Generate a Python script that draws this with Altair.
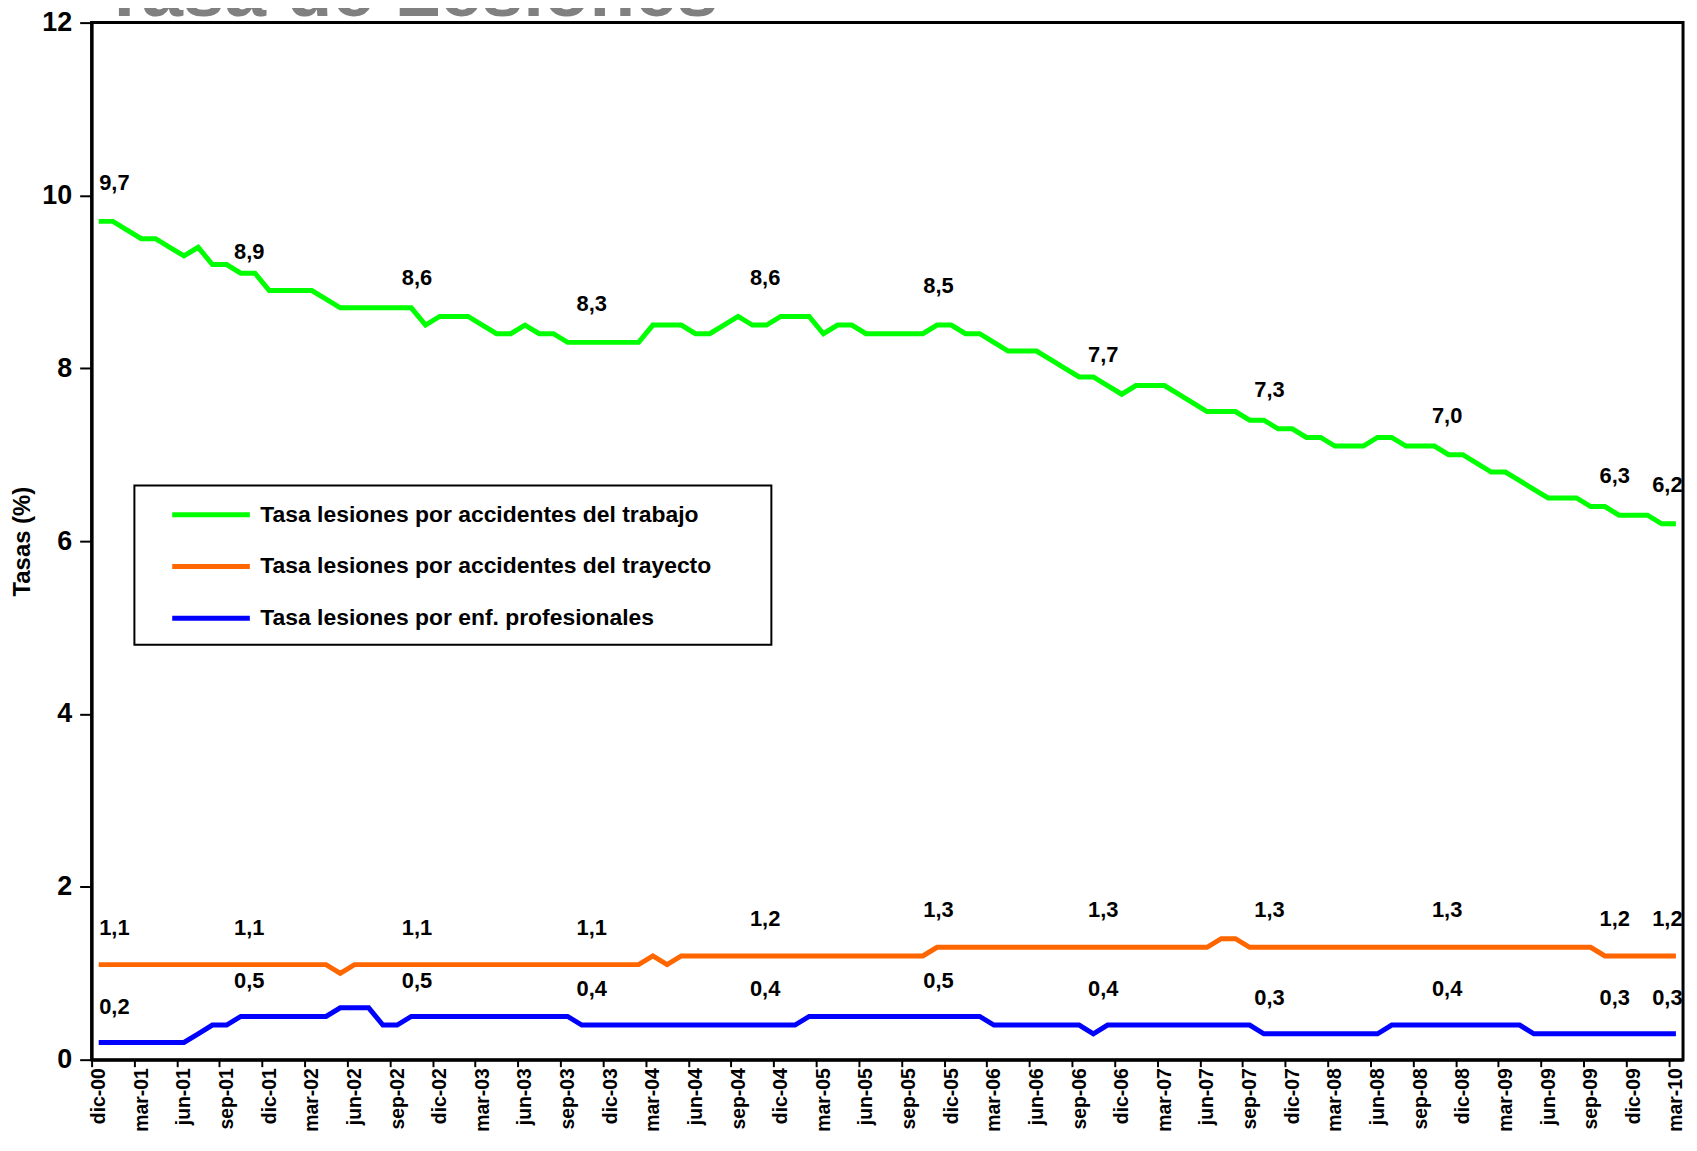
import json
import altair as alt
import pandas as pd

# ---------------- data ----------------
title_text = "Tasa de Lesiones"

tick_labels = ["dic-00", "mar-01", "jun-01", "sep-01", "dic-01", "mar-02", "jun-02", "sep-02",
               "dic-02", "mar-03", "jun-03", "sep-03", "dic-03", "mar-04", "jun-04", "sep-04",
               "dic-04", "mar-05", "jun-05", "sep-05", "dic-05", "mar-06", "jun-06", "sep-06",
               "dic-06", "mar-07", "jun-07", "sep-07", "dic-07", "mar-08", "jun-08", "sep-08",
               "dic-08", "mar-09", "jun-09", "sep-09", "dic-09", "mar-10"]

series_names = ["Tasa lesiones por accidentes del trabajo",
                "Tasa lesiones por accidentes del trayecto",
                "Tasa lesiones por enf. profesionales"]
series_colors = ["#00FF00", "#FF6600", "#0000FF"]

# monthly values, dic-00 .. mar-10 (112 months)
trabajo = [9.7, 9.7, 9.6, 9.5, 9.5, 9.4, 9.3, 9.4, 9.2, 9.2, 9.1, 9.1,
           8.9, 8.9, 8.9, 8.9, 8.8, 8.7, 8.7, 8.7, 8.7, 8.7, 8.7, 8.5,
           8.6, 8.6, 8.6, 8.5, 8.4, 8.4, 8.5, 8.4, 8.4, 8.3, 8.3, 8.3,
           8.3, 8.3, 8.3, 8.5, 8.5, 8.5, 8.4, 8.4, 8.5, 8.6, 8.5, 8.5,
           8.6, 8.6, 8.6, 8.4, 8.5, 8.5, 8.4, 8.4, 8.4, 8.4, 8.4, 8.5,
           8.5, 8.4, 8.4, 8.3, 8.2, 8.2, 8.2, 8.1, 8.0, 7.9, 7.9, 7.8,
           7.7, 7.8, 7.8, 7.8, 7.7, 7.6, 7.5, 7.5, 7.5, 7.4, 7.4, 7.3,
           7.3, 7.2, 7.2, 7.1, 7.1, 7.1, 7.2, 7.2, 7.1, 7.1, 7.1, 7.0,
           7.0, 6.9, 6.8, 6.8, 6.7, 6.6, 6.5, 6.5, 6.5, 6.4, 6.4, 6.3,
           6.3, 6.3, 6.2, 6.2]

trayecto = [1.1, 1.1, 1.1, 1.1, 1.1, 1.1, 1.1, 1.1, 1.1, 1.1, 1.1, 1.1,
            1.1, 1.1, 1.1, 1.1, 1.1, 1.0, 1.1, 1.1, 1.1, 1.1, 1.1, 1.1,
            1.1, 1.1, 1.1, 1.1, 1.1, 1.1, 1.1, 1.1, 1.1, 1.1, 1.1, 1.1,
            1.1, 1.1, 1.1, 1.2, 1.1, 1.2, 1.2, 1.2, 1.2, 1.2, 1.2, 1.2,
            1.2, 1.2, 1.2, 1.2, 1.2, 1.2, 1.2, 1.2, 1.2, 1.2, 1.2, 1.3,
            1.3, 1.3, 1.3, 1.3, 1.3, 1.3, 1.3, 1.3, 1.3, 1.3, 1.3, 1.3,
            1.3, 1.3, 1.3, 1.3, 1.3, 1.3, 1.3, 1.4, 1.4, 1.3, 1.3, 1.3,
            1.3, 1.3, 1.3, 1.3, 1.3, 1.3, 1.3, 1.3, 1.3, 1.3, 1.3, 1.3,
            1.3, 1.3, 1.3, 1.3, 1.3, 1.3, 1.3, 1.3, 1.3, 1.3, 1.2, 1.2,
            1.2, 1.2, 1.2, 1.2]

enf_prof = [0.2, 0.2, 0.2, 0.2, 0.2, 0.2, 0.2, 0.3, 0.4, 0.4, 0.5, 0.5,
            0.5, 0.5, 0.5, 0.5, 0.5, 0.6, 0.6, 0.6, 0.4, 0.4, 0.5, 0.5,
            0.5, 0.5, 0.5, 0.5, 0.5, 0.5, 0.5, 0.5, 0.5, 0.5, 0.4, 0.4,
            0.4, 0.4, 0.4, 0.4, 0.4, 0.4, 0.4, 0.4, 0.4, 0.4, 0.4, 0.4,
            0.4, 0.4, 0.5, 0.5, 0.5, 0.5, 0.5, 0.5, 0.5, 0.5, 0.5, 0.5,
            0.5, 0.5, 0.5, 0.4, 0.4, 0.4, 0.4, 0.4, 0.4, 0.4, 0.3, 0.4,
            0.4, 0.4, 0.4, 0.4, 0.4, 0.4, 0.4, 0.4, 0.4, 0.4, 0.3, 0.3,
            0.3, 0.3, 0.3, 0.3, 0.3, 0.3, 0.3, 0.4, 0.4, 0.4, 0.4, 0.4,
            0.4, 0.4, 0.4, 0.4, 0.4, 0.3, 0.3, 0.3, 0.3, 0.3, 0.3, 0.3,
            0.3, 0.3, 0.3, 0.3]

# annual data labels (value shown and the month position where each sits)
label_pos = [1.1, 10.6, 22.4, 34.7, 46.9, 59.1, 70.7, 82.4, 94.9, 106.7, 110.4]
lab_trabajo = [9.7, 8.9, 8.6, 8.3, 8.6, 8.5, 7.7, 7.3, 7.0, 6.3, 6.2]
lab_trayecto = [1.1, 1.1, 1.1, 1.1, 1.2, 1.3, 1.3, 1.3, 1.3, 1.2, 1.2]
lab_enf = [0.2, 0.5, 0.5, 0.4, 0.4, 0.5, 0.4, 0.3, 0.4, 0.3, 0.3]

# ---------------- tables ----------------
rows = []
for name, vals in zip(series_names, [trabajo, trayecto, enf_prof]):
    for i, v in enumerate(vals):
        rows.append({"idx": i, "serie": name, "valor": v})
df = pd.DataFrame(rows)

lrows = []
for name, vals in zip(series_names, [lab_trabajo, lab_trayecto, lab_enf]):
    for p, v in zip(label_pos, vals):
        lrows.append({"pos": p, "serie": name, "valor": v,
                      "texto": f"{v:.1f}".replace(".", ",")})
ldf = pd.DataFrame(lrows)

FONT = "Liberation Sans"

x_scale = alt.Scale(domain=[-0.5, 111.5], nice=False, zero=False)
y_scale = alt.Scale(domain=[0, 12], nice=False, zero=True)

label_expr = json.dumps(tick_labels) + "[round(datum.value / 3)]"

x_axis = alt.Axis(values=list(range(0, 112, 3)), labelExpr=label_expr, labelAngle=-90,
                  labelFontSize=19.5, labelPadding=1, tickSize=7, tickOffset=-7.14,
                  labelOffset=7.14, title=None, grid=False)
y_axis = alt.Axis(values=[0, 2, 4, 6, 8, 10, 12], format="d", labelFontSize=27, tickSize=12,
                  labelPadding=8, title="Tasas (%)", titleFontSize=24,
                  titleX=-69, titleY=521, titleAngle=-90, titleAlign="center",
                  titleBaseline="middle", grid=False)

lines = alt.Chart(df).mark_line(strokeWidth=5, strokeCap="butt").encode(
    x=alt.X("idx:Q", scale=x_scale, axis=x_axis),
    y=alt.Y("valor:Q", scale=y_scale, axis=y_axis),
    color=alt.Color("serie:N",
                    scale=alt.Scale(domain=series_names, range=series_colors),
                    sort=series_names,
                    legend=alt.Legend(title=" ", titleOrient="right", titlePadding=46,
                                      titleFontSize=10, orient="none",
                                      legendX=43, legendY=465,
                                      symbolType="M-3,0H3", symbolSize=676,
                                      symbolStrokeWidth=5, symbolOffset=47.5,
                                      labelOffset=34, labelFontSize=23, labelLimit=0,
                                      rowPadding=24, padding=14,
                                      strokeColor="black", fillColor="white")),
)

def text_layer(name, dy):
    return alt.Chart(ldf).transform_filter(
        alt.datum.serie == name
    ).mark_text(dy=dy, fontSize=22, fontWeight="bold", font=FONT, color="black").encode(
        x=alt.X("pos:Q", scale=x_scale),
        y=alt.Y("valor:Q", scale=y_scale),
        text="texto:N",
    )

# slide title, mostly hidden above the chart as in the original picture
title_layer = alt.Chart(pd.DataFrame({"t": [title_text]})).mark_text(
    align="left", baseline="alphabetic", fontSize=75, font=FONT, fontWeight="bold",
    color="#808080"
).encode(x=alt.value(10), y=alt.value(-7), text="t:N")

chart = alt.layer(
    lines,
    text_layer(series_names[0], -39),
    text_layer(series_names[1], -37),
    text_layer(series_names[2], -36),
    title_layer,
).properties(
    width=1599, height=1042,
    autosize=alt.AutoSizeParams(type="none"),
    padding={"left": 84, "top": 12, "right": 6, "bottom": 74},
).configure_view(
    stroke="black", strokeWidth=3
).configure_axis(
    labelFont=FONT, labelFontWeight="bold", labelColor="black",
    titleFont=FONT, titleFontWeight="bold", titleColor="black",
    domainColor="black", domainWidth=3, tickColor="black", tickWidth=2,
).configure_legend(
    labelFont=FONT, labelFontWeight="bold", labelColor="black", strokeWidth=2,
)

chart.save("out.html", embed_options={"renderer": "svg", "actions": False})
